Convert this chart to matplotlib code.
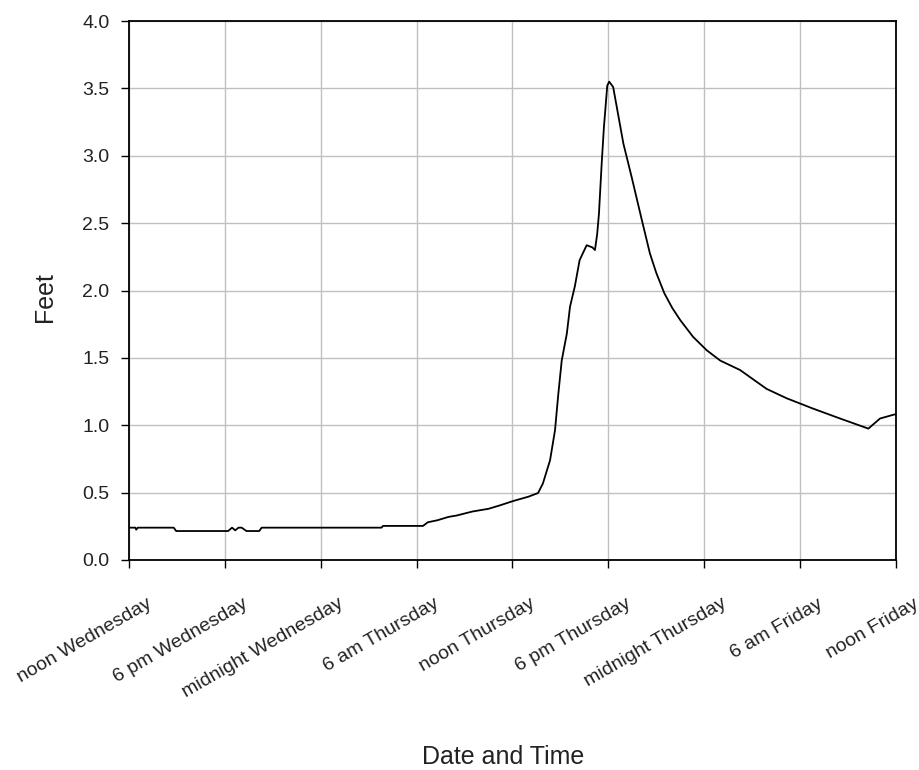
import matplotlib
matplotlib.use("Agg")
import matplotlib.pyplot as plt
import matplotlib.transforms as mtransforms

plt.rcParams['font.family'] = ['Liberation Sans', 'DejaVu Sans']

tick_labels = ["noon Wednesday", "6 pm Wednesday", "midnight Wednesday",
               "6 am Thursday", "noon Thursday", "6 pm Thursday",
               "midnight Thursday", "6 am Friday", "noon Friday"]
tick_hours = [0, 6, 12, 18, 24, 30, 36, 42, 48]
y_ticks = [0.0, 0.5, 1.0, 1.5, 2.0, 2.5, 3.0, 3.5, 4.0]

hours = [0, 0.4, 0.45, 0.55, 2.8, 2.95, 6.2, 6.45, 6.65, 6.85, 7.05, 7.35,
         7.55, 8.15, 8.3, 15.8, 15.9, 18.4, 18.7, 19.3, 20.0, 20.5, 21.5,
         22.5, 23.2, 24.05, 25.0, 25.6, 25.9, 26.35, 26.66, 26.87, 27.08,
         27.4, 27.6, 27.9, 28.2, 28.64, 29.0, 29.16, 29.3, 29.41, 29.58,
         29.72, 29.93, 30.05, 30.3, 30.94, 31.46, 32.1, 32.6, 33.0, 33.5,
         34.0, 34.5, 35.3, 36.15, 37.0, 38.24, 39.9, 41.16, 42.8, 44.5,
         46.27, 47.0, 47.9, 48]
feet = [0.24, 0.24, 0.225, 0.24, 0.24, 0.215, 0.215, 0.24, 0.22, 0.24,
        0.24, 0.215, 0.215, 0.215, 0.24, 0.24, 0.253, 0.253, 0.28, 0.295,
        0.32, 0.33, 0.36, 0.38, 0.405, 0.438, 0.47, 0.497, 0.567, 0.74,
        0.963, 1.235, 1.48, 1.68, 1.88, 2.03, 2.225, 2.336, 2.32, 2.30,
        2.42, 2.57, 2.94, 3.21, 3.52, 3.55, 3.51, 3.09, 2.84, 2.52, 2.275,
        2.13, 1.98, 1.87, 1.78, 1.656, 1.557, 1.48, 1.41, 1.27, 1.20,
        1.124, 1.05, 0.975, 1.05, 1.08, 1.08]

fig = plt.figure(figsize=(9.2, 7.7), dpi=100)
ax = fig.add_axes([129/920, 1 - 560/770, (896 - 129)/920, (560 - 21)/770])

ax.plot(hours, feet, color='black', lw=1.3)

ax.set_xlim(0, 48)
ax.set_ylim(0, 4.0)
ax.set_xticks(tick_hours)
ax.set_yticks(y_ticks)
ax.set_yticklabels([f"{v:.1f}" for v in y_ticks])
ax.grid(True, color='#c0c0c0', lw=1)
ax.set_axisbelow(True)
ax.tick_params(axis='both', direction='out', length=6, width=1, color='black',
               labelsize=14, labelcolor='#222222')
ax.tick_params(axis='y', pad=8)

offset = mtransforms.ScaledTranslation(17/100, -22/100, fig.dpi_scale_trans)
ax.set_xticklabels(tick_labels, rotation=30, ha='right', va='top',
                   rotation_mode='anchor')
for lab in ax.get_xticklabels():
    lab.set_transform(lab.get_transform() + offset)

for s in ax.spines.values():
    s.set_color('black')
    s.set_linewidth(1.3)

fig.text(45/920, 1 - 297/770, "Feet", rotation=90, ha='center', va='center',
         fontsize=18, color='#222222')
fig.text(503/920, 1 - 757/770, "Date and Time", ha='center', va='center',
         fontsize=18, color='#222222')

fig.savefig("out.png", dpi=100)
